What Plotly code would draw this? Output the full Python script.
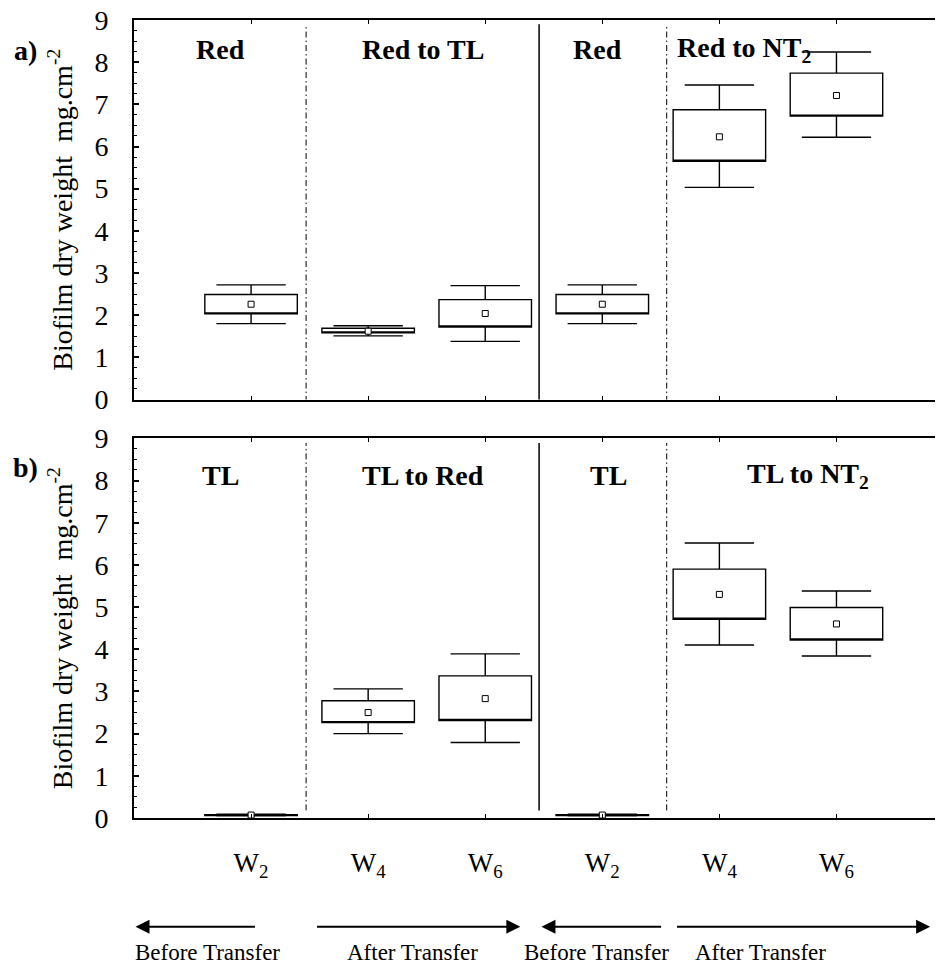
import plotly.graph_objects as go

# ---------------- data ----------------
positions = [1, 2, 3, 4, 5, 6]
week_labels = ["W<sub>2</sub>", "W<sub>4</sub>", "W<sub>6</sub>",
               "W<sub>2</sub>", "W<sub>4</sub>", "W<sub>6</sub>"]

# panel a)
a_mean = [2.26, 1.62, 2.04, 2.26, 6.23, 7.21]
a_box_lo = [2.03, 1.58, 1.72, 2.03, 5.65, 6.72]
a_box_hi = [2.49, 1.69, 2.37, 2.49, 6.87, 7.74]
a_whisk_lo = [1.80, 1.51, 1.38, 1.80, 5.03, 6.22]
a_whisk_hi = [2.72, 1.75, 2.70, 2.72, 7.46, 8.24]

# panel b)
b_mean = [0.07, 2.50, 2.83, 0.07, 5.30, 4.60]
b_box_lo = [0.06, 2.26, 2.31, 0.06, 4.71, 4.22]
b_box_hi = [0.08, 2.78, 3.37, 0.08, 5.90, 4.99]
b_whisk_lo = [0.05, 2.00, 1.79, 0.05, 4.10, 3.84]
b_whisk_hi = [0.09, 3.06, 3.89, 0.09, 6.52, 5.38]

a_groups = ["Red", "Red to TL", "Red", "Red to NT<sub>2</sub>"]
b_groups = ["TL", "TL to Red", "TL", "TL to NT<sub>2</sub>"]
group_x = [0.74, 2.47, 3.96, 5.21]
b_group_x = [0.74, 2.47, 4.05, 5.76]

dividers = [1.47, 3.46, 4.55]
divider_style = ["dashdot", "solid", "dashdot"]

phase_labels = ["Before Transfer", "After Transfer", "Before Transfer", "After Transfer"]
phase_label_x = [0.63, 2.38, 3.95, 5.35]
# arrows: (tail, tip) in x-axis units
arrows = [(1.046, 0.013), (1.55, 3.30), (4.515, 3.48), (4.625, 6.80)]

FONT = "Liberation Serif, Times New Roman, serif"

fig = go.Figure()

def add_panel(xa, ya, q1, q3, lo, hi, mean):
    fig.add_trace(go.Box(
        x=positions, q1=q1, median=q1, q3=q3, lowerfence=lo, upperfence=hi,
        xaxis=xa, yaxis=ya, width=0.79, whiskerwidth=0.75,
        fillcolor="white", line=dict(color="black", width=1.4),
        boxpoints=False, showlegend=False, hoverinfo="y"))
    fig.add_trace(go.Scatter(
        x=positions, y=mean, xaxis=xa, yaxis=ya, mode="markers",
        marker=dict(symbol="square", size=6, color="white",
                    line=dict(color="black", width=1)),
        showlegend=False))

add_panel("x", "y", a_box_lo, a_box_hi, a_whisk_lo, a_whisk_hi, a_mean)
add_panel("x2", "y2", b_box_lo, b_box_hi, b_whisk_lo, b_whisk_hi, b_mean)

dash_map = {"dashdot": "6px,3px,1.5px,3px", "solid": "solid"}
for xv, st in zip(dividers, divider_style):
    fig.add_shape(type="line", xref="x", yref="y", x0=xv, x1=xv, y0=-0.06, y1=8.9,
                  line=dict(color="black", width=1.5 if st == "solid" else 1,
                            dash=dash_map[st]))
    fig.add_shape(type="line", xref="x2", yref="y2", x0=xv, x1=xv, y0=0.18, y1=8.89,
                  line=dict(color="black", width=1.5 if st == "solid" else 1,
                            dash=dash_map[st]))

for txt, xv in zip(a_groups, group_x):
    fig.add_annotation(x=xv, y=8.29, xref="x", yref="y", text="<b>%s</b>" % txt,
                       showarrow=False, font=dict(family=FONT, size=28, color="black"))
for txt, xv in zip(b_groups, b_group_x):
    fig.add_annotation(x=xv, y=8.13, xref="x2", yref="y2", text="<b>%s</b>" % txt,
                       showarrow=False, font=dict(family=FONT, size=28, color="black"))

fig.add_annotation(x=-0.1335, y=0.962, xref="paper", yref="paper", text="<b>a)</b>",
                   xanchor="center", yanchor="middle",
                   showarrow=False, font=dict(family=FONT, size=28, color="black"))
fig.add_annotation(x=-0.1335, y=0.4386, xref="paper", yref="paper", text="<b>b)</b>",
                   xanchor="center", yanchor="middle",
                   showarrow=False, font=dict(family=FONT, size=28, color="black"))

for (tail, tip) in arrows:
    fig.add_annotation(x=tip, y=-0.1362, xref="x2", yref="paper",
                       ax=tail, ay=0, axref="x2", ayref="pixel",
                       text="", showarrow=True, arrowhead=2, arrowsize=1.4,
                       arrowwidth=2, arrowcolor="black")
for txt, xv in zip(phase_labels, phase_label_x):
    fig.add_annotation(x=xv, y=-0.168, xref="x2", yref="paper", text=txt,
                       xanchor="center", yanchor="middle",
                       showarrow=False, font=dict(family=FONT, size=23, color="black"))

ytitle = "Biofilm dry weight\u00a0\u00a0mg.cm<sup>-2</sup>"
yaxis_common = dict(
    range=[0, 9], tickvals=list(range(10)), ticks="inside", ticklen=5, tickwidth=1.5,
    tickcolor="black", showline=True, linecolor="black", linewidth=2, mirror=False,
    showgrid=False, zeroline=False, tickfont=dict(family=FONT, size=28, color="black"),
    ticklabelstandoff=18, automargin=False, ticklabeloverflow="allow",
    minor=dict(dtick=0.25, tick0=0, ticks="inside", ticklen=3, tickwidth=1, tickcolor="black"),
    title=dict(text=ytitle, font=dict(family=FONT, size=28, color="black"), standoff=14),
)
xaxis_common = dict(
    range=[0, 6.91], tickvals=positions, ticktext=week_labels, ticks="inside",
    ticklen=4, tickwidth=1, tickcolor="black", showline=True, linecolor="black",
    linewidth=2, mirror="ticks", showgrid=False, zeroline=False, automargin=False,
    tickfont=dict(family=FONT, size=27, color="black"),
)

# the page body adds an 8px offset; size/margins compensate for it
fig.update_layout(
    width=935, height=956,
    margin=dict(l=126, r=0, t=12, b=146, autoexpand=False),
    paper_bgcolor="white", plot_bgcolor="white",
    font=dict(family=FONT, color="black"),
    showlegend=False,
    xaxis=dict(xaxis_common, domain=[0, 1], anchor="y", showticklabels=False),
    yaxis=dict(yaxis_common, domain=[0.5244, 1], anchor="x"),
    xaxis2=dict(xaxis_common, domain=[0, 1], anchor="y2", showticklabels=True,
                ticklabelstandoff=20),
    yaxis2=dict(yaxis_common, domain=[0, 0.4758], anchor="x2"),
)

fig.write_html("out.html")
